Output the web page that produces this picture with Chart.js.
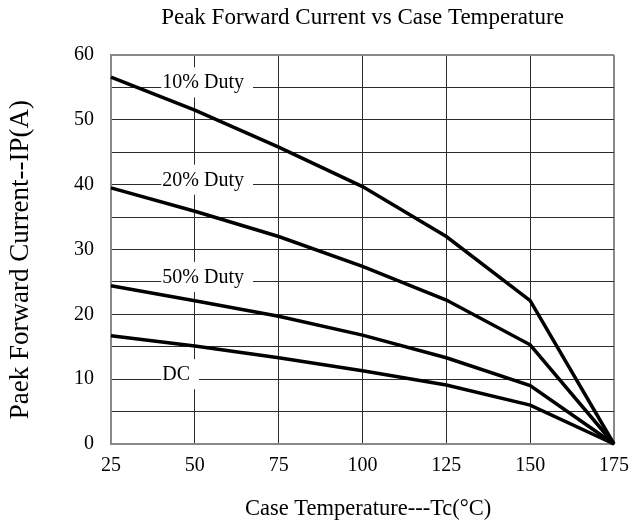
<!DOCTYPE html>
<html>
<head>
<meta charset="utf-8">
<script src="https://cdn.jsdelivr.net/npm/chart.js@4"></script>
<style>
    html, body { margin: 0; padding: 0; background: #fff; }
    #wrap { width: 639px; height: 530px; }
</style>
</head>
<body>
<div id="wrap"><canvas id="chart" width="639" height="530"></canvas></div>
<script>
"use strict";

const temps = [25, 50, 75, 100, 125, 150, 175];
const duty10 = [56.6, 51.5, 45.8, 39.7, 32.0, 22.1, 0];
const duty20 = [39.5, 35.9, 32.0, 27.4, 22.2, 15.3, 0];
const duty50 = [24.4, 22.1, 19.7, 16.8, 13.3, 9.0, 0];
const dcLine = [16.7, 15.1, 13.3, 11.3, 9.1, 6.0, 0];

const curveNames = ["10% Duty", "20% Duty", "50% Duty", "DC"];
const curveLabelAt = [55, 40, 25, 10];   // grid line each label sits on
const xTicks = [25, 50, 75, 100, 125, 150, 175];

const SERIF = "'Liberation Serif', 'DejaVu Serif', serif";
const NB = "\u00a0";

function series(values) {
    return values.map((v, i) => ({ x: temps[i], y: v }));
}

// white boxed labels sitting on the grid lines, like the datasheet
const curveLabels = {
    id: "curveLabels",
    beforeDatasetsDraw(chart) {
        const ctx = chart.ctx;
        const x = chart.scales.x.getPixelForValue(40) + 1;
        ctx.save();
        ctx.font = "20px " + SERIF;
        ctx.textBaseline = "alphabetic";
        curveNames.forEach((name, i) => {
            const y = chart.scales.y.getPixelForValue(curveLabelAt[i]);
            const w = ctx.measureText(name).width;
            ctx.fillStyle = "#fff";
            ctx.fillRect(x - 1, y - 20, w + 10, 30);
            ctx.fillStyle = "#000";
            ctx.fillText(name, x, y + 1);
        });
        ctx.restore();
    }
};

const isEdge = (c, a, b) => c.tick && (c.tick.value === a || c.tick.value === b);

new Chart(document.querySelector("#chart").getContext("2d"), { //NOSONAR
    type: "line",
    data: {
        datasets: [
            { label: curveNames[0], data: series(duty10) },
            { label: curveNames[1], data: series(duty20) },
            { label: curveNames[2], data: series(duty50) },
            { label: curveNames[3], data: series(dcLine) }
        ].map(d => Object.assign(d, {
            borderColor: "#000",
            borderWidth: 3.5,
            pointRadius: 0,
            tension: 0,
            clip: false
        }))
    },
    options: {
        responsive: false,
        animation: false,
        layout: { padding: { left: 0, right: 16, top: 0, bottom: 0 } },
        plugins: {
            legend: { display: false },
            tooltip: { enabled: false },
            title: {
                display: true,
                fullSize: false,
                text: "Peak Forward Current vs Case Temperature",
                color: "#000",
                font: { family: SERIF, size: 23, weight: "normal" },
                padding: { top: 4.5, bottom: 22.9 }
            }
        },
        scales: {
            x: {
                type: "linear",
                min: 25,
                max: 175,
                afterBuildTicks: s => { s.ticks = xTicks.map(v => ({ value: v })); },
                afterFit: s => { s.height = 86; },
                ticks: {
                    color: "#000",
                    padding: 10,
                    maxRotation: 0,
                    font: { family: SERIF, size: 20 }
                },
                grid: {
                    color: c => isEdge(c, 25, 175) ? "#888" : "#2b2b2b",
                    lineWidth: c => isEdge(c, 25, 175) ? 2 : 1,
                    drawTicks: false
                },
                border: { color: "#888", width: 2 },
                title: {
                    display: true,
                    text: NB + NB + "Case Temperature---Tc(°C)",
                    color: "#000",
                    font: { family: SERIF, size: 22.5 },
                    padding: { top: 0, bottom: 7 }
                }
            },
            y: {
                min: 0,
                max: 60,
                afterFit: s => { s.width = 111; },
                ticks: {
                    stepSize: 5,
                    color: "#000",
                    padding: 17,
                    font: { family: SERIF, size: 20 },
                    callback: v => (v % 10 === 0 ? v : "")
                },
                grid: {
                    color: c => isEdge(c, 0, 60) ? "#888" : "#2b2b2b",
                    lineWidth: c => isEdge(c, 0, 60) ? 2 : 1,
                    drawTicks: false
                },
                border: { color: "#888", width: 2 },
                title: {
                    display: true,
                    text: "Paek Forward Current--IP(A)" + NB + NB + NB,
                    color: "#000",
                    font: { family: SERIF, size: 27 },
                    padding: { top: 5, bottom: 0 }
                }
            }
        }
    },
    plugins: [curveLabels]
});
</script>
</body>
</html>
